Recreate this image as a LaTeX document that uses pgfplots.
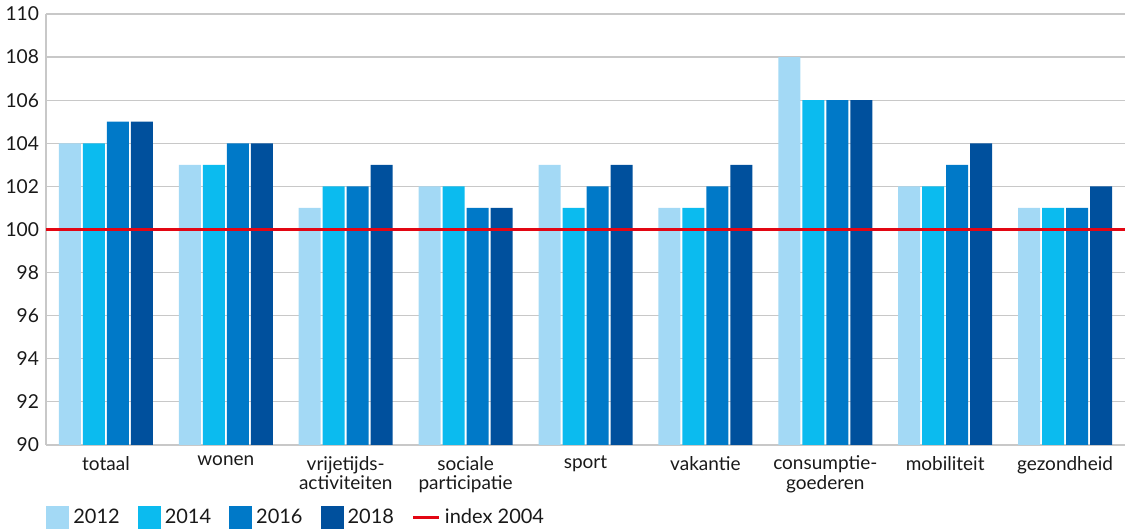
\documentclass[border=0pt]{standalone}
\usepackage{pgfplots}
\pgfplotsset{compat=1.18}
\usepackage{fontspec}
\setmainfont{Lato}
\definecolor{c12}{HTML}{A3D9F5}
\definecolor{c14}{HTML}{0BBBEF}
\definecolor{c16}{HTML}{0079C8}
\definecolor{c18}{HTML}{00509D}
\definecolor{indexred}{HTML}{E30613}
\definecolor{gridgray}{HTML}{C8C8C8}

\pgfplotstableread{
cat y12 y14 y16 y18
0 104 104 105 105
1 103 103 104 104
2 101 102 102 103
3 102 102 101 101
4 103 101 102 103
5 101 101 102 103
6 108 106 106 106
7 102 102 103 104
8 101 101 101 102
}\data

\begin{document}
\begin{tikzpicture}
\begin{axis}[
    scale only axis,
    width=539.5pt, height=215.5pt,
    ybar=1pt, bar width=11pt,
    xmin=-0.5, xmax=8.5,
    ymin=90, ymax=110,
    ytick={90,92,...,110},
    xtick={0,...,8},
    xticklabels={totaal, wonen, {vrijetijds-\\activiteiten}, {sociale\\participatie},
      sport, vakantie, {consumptie-\\goederen}, mobiliteit, gezondheid},
    xticklabel style={align=center, yshift=-2pt, font=\fontsize{9.5}{9.8}\selectfont},
    yticklabel style={font=\fontsize{9.6}{12}\selectfont},
    /pgf/number format/assume math mode=true,
    major tick length=0pt,
    axis x line*=bottom, axis y line*=left,
    axis line style={gridgray, line width=0.8pt, -},
    ymajorgrids, grid style={gridgray, line width=0.6pt},
    tick label style={text=black!90},
    legend columns=5,
    legend style={draw=none, fill=none, inner sep=0pt,
      at={([yshift=-36.3pt]axis description cs:0,0)}, anchor=west,
      font=\fontsize{10}{12}\selectfont, text=black!90,
      /tikz/every even column/.append style={column sep=7pt}},
    legend image code/.code={\fill[#1] (0pt,-5.75pt) rectangle (11.5pt,5.75pt);},
    clip=true,
]
\addplot[fill=c12, draw=none] table[x=cat, y=y12] {\data};
\addlegendentry{2012}
\addplot[fill=c14, draw=none] table[x=cat, y=y14] {\data};
\addlegendentry{2014}
\addplot[fill=c16, draw=none] table[x=cat, y=y16] {\data};
\addlegendentry{2016}
\addplot[fill=c18, draw=none] table[x=cat, y=y18] {\data};
\addlegendentry{2018}
\addplot[sharp plot, indexred, line width=1.4pt, forget plot] coordinates {(-0.5,100) (8.5,100)};
\addlegendimage{legend image code/.code={\draw[indexred, line width=1.5pt] (0pt,0pt) -- (13pt,0pt);}}
\addlegendentry{index 2004}
\coordinate (o) at (rel axis cs:0,0);
\end{axis}
\pgfresetboundingbox
\path (o) ++(-23pt,-42pt) rectangle ++(562.5pt,264.5pt);
\end{tikzpicture}
\end{document}
